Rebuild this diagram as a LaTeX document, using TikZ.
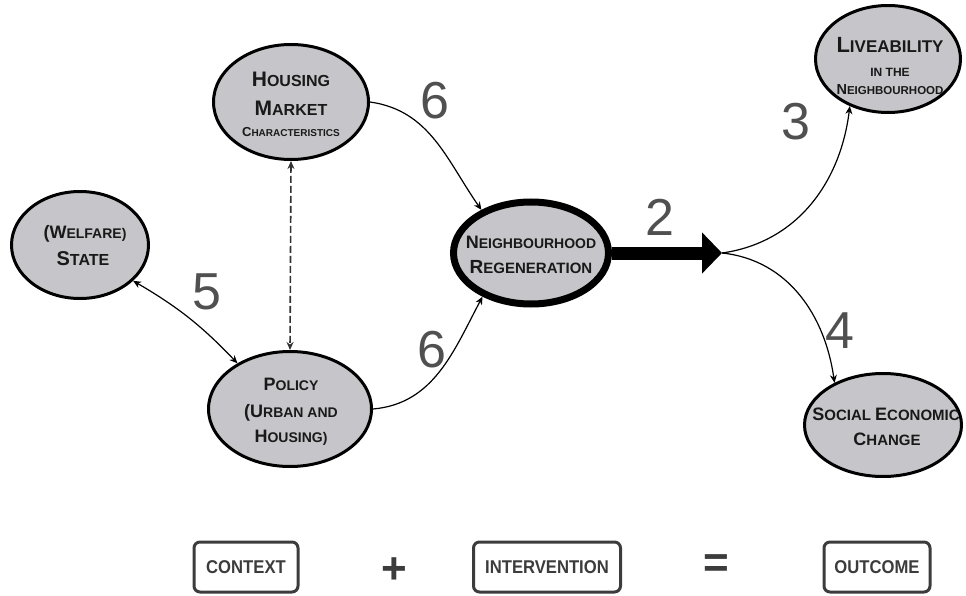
\documentclass[tikz,border=0pt]{standalone}
\usepackage{fontspec}
\setmainfont{Liberation Sans}
\newfontfamily\narrowfont{Liberation Sans}[FakeStretch=0.9]
\usetikzlibrary{arrows.meta,shapes.geometric}
\definecolor{ellfill}{RGB}{198,198,202}
\definecolor{numgray}{RGB}{80,80,80}
\definecolor{boxgray}{RGB}{60,60,60}
\definecolor{dashgray}{RGB}{50,50,50}
\newcommand\SCw[4]{{\fontsize{#1}{#1}\selectfont#3}{\fontsize{#2}{#2}\selectfont#4}}
\tikzset{
  ell/.style={ellipse, draw=black, line width=3pt, fill=ellfill, inner sep=0pt},
  txt/.style={anchor=base, inner sep=0pt, font=\bfseries, text=black!90},
  num/.style={inner sep=0pt, font=\fontsize{52}{52}\selectfont, text=numgray},
  tipA/.tip={Stealth[length=8pt,width=7pt]},
  conn/.style={line width=1.2pt, draw=black, -tipA},
  connboth/.style={line width=1.2pt, draw=black, tipA-tipA},
  dashconn/.style={line width=1.6pt, draw=dashgray, dash pattern=on 7pt off 3pt, tipA-tipA},
  bigarrow/.style={line width=13pt, draw=black, -{Triangle[length=20pt,width=40pt]}},
  box/.style={draw=boxgray, line width=3pt, rounded corners=6pt, fill=white,
    font=\narrowfont\bfseries\fontsize{18.5}{18.5}\selectfont, text=boxgray,
    minimum height=50pt, inner sep=0pt},
  sign/.style={inner sep=0pt, font=\bfseries\fontsize{44}{44}\selectfont, text=boxgray},
}
\begin{document}
\begin{tikzpicture}[x=1pt,y=1pt]
\useasboundingbox (0,0) rectangle (966,-596);

% ellipses
\node[ell, minimum width=155pt, minimum height=115pt] (housing) at (291,-102) {};
\node[ell, minimum width=137pt, minimum height=107pt] (state) at (80,-245) {};
\node[ell, minimum width=163pt, minimum height=115pt] (policy) at (290,-409) {};
\node[ell, line width=7pt, minimum width=155pt, minimum height=102pt] (regen) at (531,-253) {};
\node[ell, minimum width=145pt, minimum height=107pt] (live) at (888,-59) {};
\node[ell, minimum width=157pt, minimum height=103pt] (social) at (883,-425) {};

% ellipse texts
\node[txt] (h1) at (291,-87) {\SCw{21}{16}{H}{OUSING}};
\node[txt] (h2) at (291,-116) {\SCw{21}{16}{M}{ARKET}};
\node[txt] (h3) at (291,-137) {\SCw{13}{10}{C}{HARACTERISTICS}};

\node[txt] (s1) at (85,-238) {\SCw{18}{14}{(W}{ELFARE)}};
\node[txt] (s2) at (83,-265) {\SCw{20}{16}{S}{TATE}};

\node[txt] (p1) at (291,-390) {\SCw{18}{14}{P}{OLICY}};
\node[txt] (p2) at (291,-417) {\SCw{18}{14}{(U}{RBAN AND}};
\node[txt] (p3) at (291,-442) {\SCw{18}{14}{H}{OUSING)}};

\node[txt] (r1) at (531,-248) {\SCw{18}{14}{N}{EIGHBOURHOOD}};
\node[txt] (r2) at (531,-273) {\SCw{19}{15}{R}{EGENERATION}};

\node[txt] (l1) at (890,-53) {\SCw{22}{17}{L}{IVEABILITY}};
\node[txt] (l2) at (890,-77) {\SCw{12}{12}{I}{N THE}};
\node[txt] (l3) at (890,-95) {\SCw{14.5}{11.5}{N}{EIGHBOURHOOD}};

\node[txt] (c1) at (886,-420) {\SCw{18}{15}{S}{OCIAL }\SCw{18}{15}{E}{CONOMIC}};
\node[txt] (c2) at (887,-445) {\SCw{18}{15}{C}{HANGE}};

% connectors
\coordinate (split) at (722,-253);
\draw[dashconn] (housing.south) -- (policy.north);
\draw[connboth] (state.-34) to[bend left=8] (policy.139);
\draw[conn] (housing.east) to[out=-8, in=125] (regen.139);
\draw[conn] (policy.east) to[out=5, in=-118] (regen.222);
\draw[bigarrow] (regen.east) -- (split);
\draw[conn] (split) to[out=8, in=-97] (live.231);
\draw[conn] (split) to[out=-6, in=98] (social.139);

% numbers
\node[num] (n2) at (660,-217) {2};
\node[num] (n3) at (796,-122) {3};
\node[num] (n4) at (840,-331) {4};
\node[num] (n5) at (207,-292) {5};
\node[num] (n6a) at (435,-101) {6};
\node[num] (n6b) at (432,-350) {6};

% bottom equation
\node[box, minimum width=104pt] (context) at (246,-567) {CONTEXT};
\node[sign] (plus) at (394,-571) {+};
\node[box, minimum width=147pt] (interv) at (547,-567) {INTERVENTION};
\node[sign] (equals) at (716,-566) {=};
\node[box, minimum width=106pt] (outcome) at (877,-567) {OUTCOME};
\end{tikzpicture}
\end{document}
